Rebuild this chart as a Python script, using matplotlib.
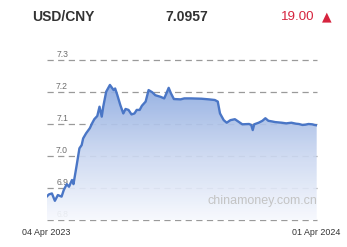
import numpy as np
import pandas as pd
import matplotlib
matplotlib.use("Agg")
import matplotlib.pyplot as plt
import matplotlib.dates as mdates
from matplotlib.colors import LinearSegmentedColormap

plt.rcParams['font.family'] = ['Liberation Sans', 'DejaVu Sans']

pair = "USD/CNY"
last_price = "7.0957"
change = "19.00"

dates = [
    "2023-04-04", "2023-04-07", "2023-04-11", "2023-04-15", "2023-04-19", "2023-04-24",
    "2023-04-27", "2023-05-01", "2023-05-04", "2023-05-08", "2023-05-10", "2023-05-14",
    "2023-05-18", "2023-05-21", "2023-05-23", "2023-05-27", "2023-06-01", "2023-06-04",
    "2023-06-07", "2023-06-11", "2023-06-14", "2023-06-17", "2023-06-19", "2023-06-23",
    "2023-06-28", "2023-07-03", "2023-07-05", "2023-07-08", "2023-07-12", "2023-07-16",
    "2023-07-19", "2023-07-23", "2023-07-27", "2023-07-31", "2023-08-03", "2023-08-07",
    "2023-08-10", "2023-08-15", "2023-08-19", "2023-08-24", "2023-08-28", "2023-09-04",
    "2023-09-09", "2023-09-12", "2023-09-15", "2023-09-18", "2023-09-22", "2023-10-01",
    "2023-10-06", "2023-10-15", "2023-10-29", "2023-11-08", "2023-11-16", "2023-11-20",
    "2023-11-23", "2023-11-28", "2023-12-02", "2023-12-07", "2023-12-13", "2023-12-18",
    "2023-12-23", "2024-01-01", "2024-01-04", "2024-01-06", "2024-01-08", "2024-01-14",
    "2024-01-19", "2024-01-23", "2024-01-27", "2024-02-01", "2024-02-05", "2024-02-14",
    "2024-02-20", "2024-02-27", "2024-03-04", "2024-03-08", "2024-03-13", "2024-03-17",
    "2024-03-21", "2024-03-26", "2024-03-29", "2024-04-01",
]
rates = [
    6.873, 6.880, 6.883, 6.860, 6.878, 6.873,
    6.894, 6.912, 6.904, 6.925, 6.912, 6.967,
    7.024, 7.034, 7.055, 7.071, 7.087, 7.102,
    7.115, 7.125, 7.154, 7.123, 7.154, 7.201,
    7.222, 7.206, 7.211, 7.190, 7.159, 7.133,
    7.147, 7.144, 7.130, 7.133, 7.144, 7.144,
    7.157, 7.170, 7.206, 7.199, 7.190, 7.185,
    7.180, 7.196, 7.213, 7.196, 7.178, 7.177,
    7.180, 7.180, 7.179, 7.177, 7.175, 7.170,
    7.133, 7.112, 7.104, 7.112, 7.115, 7.107,
    7.099, 7.100, 7.097, 7.081, 7.099, 7.104,
    7.110, 7.118, 7.110, 7.108, 7.106, 7.104,
    7.102, 7.104, 7.101, 7.100, 7.097, 7.098,
    7.100, 7.099, 7.097, 7.096,
]
y_ticks = [6.8, 6.9, 7.0, 7.1, 7.2, 7.3]
start_label = "04 Apr 2023"
end_label = "01 Apr 2024"

x = mdates.date2num(pd.to_datetime(dates))
y = np.array(rates)

W, H = 347, 247
fig = plt.figure(figsize=(W / 100, H / 100), dpi=100)
ax = fig.add_axes([46.7 / W, (H - 220) / H, 270 / W, 170 / H])
ax.set_xlim(x[0], x[-1])
ax.set_ylim(6.8, 7.3 + 10 / 320)
ax.axis('off')

# dashed grid + labels (labels sit under the fill)
for t in y_ticks:
    ax.axhline(t, color='#9a9a9a', lw=0.9, ls=(0, (5, 3.5)), zorder=1, clip_on=False)
    ax.text(x[0] + (x[-1] - x[0]) * 0.057, t + 0.016, f"{t:.1f}", ha='center', va='center',
            fontsize=6.2, color='#6e6e6e', zorder=1, clip_on=False)

# gradient area under the line
cmap = LinearSegmentedColormap.from_list('fade', ['#f7f9fe', '#c9d6f0', '#8caae0'])
grad = np.linspace(0, 1, 256).reshape(-1, 1)
im = ax.imshow(grad, cmap=cmap, aspect='auto', origin='lower', alpha=0.92,
               extent=[x[0], x[-1], 6.8, y.max()], zorder=2)
poly = ax.fill_between(x, y, 6.8, color='none', lw=0)
path = poly.get_paths()[0]
im.set_clip_path(path, transform=ax.transData)
ax.plot(x, y, color='#4a76c6', lw=1.7, zorder=3, solid_joinstyle='round')

# header
fig.text(32 / W, 1 - 17 / H, pair, fontsize=10, fontweight='bold', color='#333333', va='center')
fig.text(165 / W, 1 - 17 / H, last_price, fontsize=10, fontweight='bold', color='#333333', va='center')
fig.text(281 / W, 1 - 17 / H, change, fontsize=9.6, color='#d6243e', va='center')
fig.text(326.7 / W, 1 - 17 / H, "\u25b2", fontsize=9, color='#d6243e', va='center', ha='center',
         family=['DejaVu Sans'])

# watermark
fig.text(208 / W, 1 - 201 / H, "chinamoney.com.cn", fontsize=9, color='#c4c4c4', va='center')

# date labels
fig.text(22 / W, 1 - 232 / H, start_label, fontsize=6.4, color='#333333', va='center')
fig.text(292.5 / W, 1 - 232.5 / H, end_label, fontsize=6.4, color='#333333', va='center')

fig.savefig('out.png', dpi=100)
